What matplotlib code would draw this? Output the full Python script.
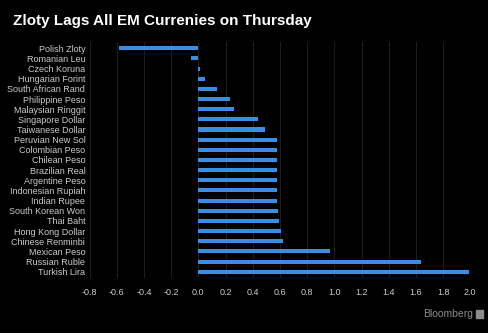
import matplotlib
matplotlib.use('Agg')
import matplotlib.pyplot as plt
from matplotlib.patches import Rectangle

# currencies, top to bottom, and change in % vs USD
currencies = ['Polish Zloty', 'Romanian Leu', 'Czech Koruna', 'Hungarian Forint',
              'South African Rand', 'Philippine Peso', 'Malaysian Ringgit',
              'Singapore Dollar', 'Taiwanese Dollar', 'Peruvian New Sol',
              'Colombian Peso', 'Chilean Peso', 'Brazilian Real', 'Argentine Peso',
              'Indonesian Rupiah', 'Indian Rupee', 'South Korean Won', 'Thai Baht',
              'Hong Kong Dollar', 'Chinese Renminbi', 'Mexican Peso', 'Russian Ruble',
              'Turkish Lira']
changes = [-0.58, -0.055, 0.01, 0.05, 0.14, 0.235, 0.265, 0.44, 0.49, 0.58,
           0.58, 0.58, 0.58, 0.58, 0.58, 0.582, 0.585, 0.595, 0.605, 0.62,
           0.97, 1.64, 1.99]
xticks = [-0.8, -0.6, -0.4, -0.2, 0.0, 0.2, 0.4, 0.6, 0.8, 1.0, 1.2, 1.4, 1.6, 1.8, 2.0]

plt.rcParams['font.family'] = ['Liberation Sans', 'DejaVu Sans']

fig = plt.figure(figsize=(4.88, 3.33), dpi=100, facecolor='black')
ax = fig.add_axes([89.5 / 488, 0.1658, 380.8 / 488, 0.7075], facecolor='black')

ypos = list(range(len(currencies)))
ax.barh(ypos, changes, height=0.4, color='#3b8de2', zorder=3)

ax.set_xlim(-0.8, 2.0)
ax.set_ylim(len(currencies) - 0.4, -0.6)
ax.set_xticks(xticks)
ax.set_xticklabels(['%.1f' % t for t in xticks])
ax.set_yticks(ypos)
ax.set_yticklabels(currencies)
ax.tick_params(axis='both', length=0, colors='#cccccc', labelsize=6.5)
ax.tick_params(axis='x', pad=7)
ax.tick_params(axis='y', pad=3)
ax.grid(axis='x', color='#1c1c1c', linewidth=0.8, zorder=0)
for s in ax.spines.values():
    s.set_visible(False)

fig.text(13 / 488, 1 - 21 / 333, 'Zloty Lags All EM Currenies on Thursday',
         color='white', fontsize=11, fontweight='bold', va='center', ha='left')
fig.text(473 / 488, 1 - 314 / 333, 'Bloomberg', color='#8c8c8c', fontsize=7.5,
         va='center', ha='right')
fig.patches.append(Rectangle((476 / 488, 1 - 318 / 333), 7 / 488, 8 / 333,
                             transform=fig.transFigure, color='#8c8c8c'))

fig.savefig('out.png', dpi=100, facecolor='black')
